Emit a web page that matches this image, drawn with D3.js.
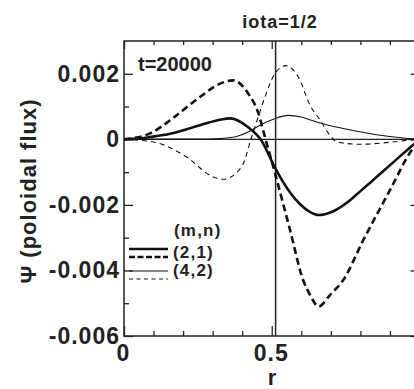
<!DOCTYPE html>
<html>
<head>
<meta charset="utf-8">
<script src="https://cdn.jsdelivr.net/npm/d3@7"></script>
<style>
  body { margin: 0; background: #fff; }
  text { font-family: "Liberation Sans", Arial, sans-serif; font-weight: bold; fill: #222; }
</style>
</head>
<body>
<div id="chart"></div>
<script>
// values (psi in units of 1e-3)
var r21 = [0, 0.054, 0.088, 0.156, 0.212, 0.27, 0.325, 0.36, 0.42, 0.466, 0.51, 0.535, 0.562, 0.596, 0.63, 0.658, 0.707, 0.765, 0.8, 0.832, 0.91, 0.968, 1];
var psi21 = [0, 0.03, 0.07, 0.17, 0.31, 0.47, 0.6, 0.64, 0.37, -0.05, -0.85, -1.25, -1.62, -1.98, -2.22, -2.31, -2.2, -1.86, -1.58, -1.33, -0.71, -0.25, 0];

var r21b = [0, 0.088, 0.156, 0.212, 0.257, 0.325, 0.37, 0.42, 0.455, 0.477, 0.51, 0.562, 0.606, 0.63, 0.658, 0.697, 0.742, 0.81, 0.9, 0.968, 1];
var psi21b = [0, 0.18, 0.58, 0.98, 1.29, 1.7, 1.8, 1.4, 0.79, 0.07, -1.0, -2.77, -4.29, -4.75, -5.1, -4.75, -4.29, -3.07, -1.55, -0.4, 0];

var r42 = [0, 0.2, 0.308, 0.375, 0.42, 0.466, 0.51, 0.556, 0.6, 0.635, 0.663, 0.742, 0.855, 0.945, 1];
var psi42 = [0, 0.005, 0.02, 0.07, 0.22, 0.46, 0.63, 0.73, 0.68, 0.58, 0.5, 0.33, 0.14, 0.04, 0];

var r42b = [0, 0.1, 0.212, 0.302, 0.335, 0.398, 0.432, 0.477, 0.51, 0.548, 0.59, 0.63, 0.663, 0.697, 0.72, 0.8, 0.91, 0.97, 1];
var psi42b = [0, -0.08, -0.54, -1.15, -1.22, -0.84, 0.07, 1.29, 2.0, 2.25, 1.9, 1.03, 0.6, 0.12, -0.08, -0.15, -0.08, -0.02, 0];

var yTicks = [-0.006, -0.004, -0.002, 0, 0.002];
var yMinor = [-0.005, -0.003, -0.001, 0.001];
var xTicks = [0, 0.5];
var xMajor = [0, 0.5, 1];
var xMinor = [0.1, 0.2, 0.3, 0.4, 0.6, 0.7, 0.8, 0.9];
var rMark = 0.513;
var legendLabels = ["(2,1)", "(4,2)"];

var width = 414, height = 389;
var margin = {top: 41, left: 124};
var plotW = 295.5, plotH = 295;

var svg = d3.select("#chart").append("svg")
    .attr("width", width)
    .attr("height", height);

var x = d3.scaleLinear().domain([0, 1]).range([margin.left, margin.left + plotW]);
var y = d3.scaleLinear().domain([-0.006, 0.003]).range([margin.top + plotH, margin.top]);

// frame
svg.append("rect")
    .attr("x", x(0)).attr("y", y(0.003))
    .attr("width", x(1) - x(0)).attr("height", y(-0.006) - y(0.003))
    .attr("fill", "none").attr("stroke", "#222").attr("stroke-width", 1.5);

function styleAxis(g) {
    g.select(".domain").remove();
    g.selectAll("line").attr("stroke", "#222").attr("stroke-width", 1.3);
    g.selectAll("text")
        .style("font-size", "23px")
        .style("letter-spacing", "1px")
        .attr("fill", "#222");
}

function fmt(d) {
    if (d === 0) return "0";
    return d.toFixed(3);
}

// left axis, ticks pointing in
svg.append("g")
    .attr("transform", "translate(" + x(0) + ",0)")
    .call(d3.axisLeft(y).tickValues(yTicks).tickSize(-9).tickPadding(4).tickFormat(fmt))
    .call(styleAxis);
svg.append("g")
    .attr("transform", "translate(" + x(0) + ",0)")
    .call(d3.axisLeft(y).tickValues(yMinor).tickSize(-5).tickFormat(""))
    .call(styleAxis);

// right axis
svg.append("g")
    .attr("transform", "translate(" + x(1) + ",0)")
    .call(d3.axisRight(y).tickValues(yTicks).tickSize(-9).tickFormat(""))
    .call(styleAxis);
svg.append("g")
    .attr("transform", "translate(" + x(1) + ",0)")
    .call(d3.axisRight(y).tickValues(yMinor).tickSize(-5).tickFormat(""))
    .call(styleAxis);

// bottom axis
svg.append("g")
    .attr("transform", "translate(0," + y(-0.006) + ")")
    .call(d3.axisBottom(x).tickValues(xMajor).tickSize(-10).tickFormat(""))
    .call(styleAxis);
svg.append("g")
    .attr("transform", "translate(-1," + y(-0.006) + ")")
    .call(d3.axisBottom(x).tickValues(xTicks).tickSize(0).tickPadding(9).tickFormat(function (d) { return d === 0 ? "0" : String(d); }))
    .call(styleAxis);
svg.append("g")
    .attr("transform", "translate(0," + y(-0.006) + ")")
    .call(d3.axisBottom(x).tickValues(xMinor).tickSize(-5).tickFormat(""))
    .call(styleAxis);

// top axis
svg.append("g")
    .attr("transform", "translate(0," + y(0.003) + ")")
    .call(d3.axisTop(x).tickValues(xMajor).tickSize(-8).tickFormat(""))
    .call(styleAxis);
svg.append("g")
    .attr("transform", "translate(0," + y(0.003) + ")")
    .call(d3.axisTop(x).tickValues(xMinor).tickSize(-4).tickFormat(""))
    .call(styleAxis);

// zero line and rational surface marker
svg.append("line")
    .attr("x1", x(0)).attr("x2", x(1))
    .attr("y1", y(0)).attr("y2", y(0))
    .attr("stroke", "#222").attr("stroke-width", 1.4);
svg.append("line")
    .attr("x1", x(rMark)).attr("x2", x(rMark))
    .attr("y1", y(0.003)).attr("y2", y(-0.006))
    .attr("stroke", "#222").attr("stroke-width", 1.5);

// curves
var series = [
    {r: r21, v: psi21, w: 2.6, dash: null},
    {r: r21b, v: psi21b, w: 2.6, dash: "7,4"},
    {r: r42, v: psi42, w: 1.1, dash: null},
    {r: r42b, v: psi42b, w: 1.1, dash: "5,4"}
];

var line = d3.line()
    .x(function (d) { return x(d[0]); })
    .y(function (d) { return y(d[1] * 1e-3); })
    .curve(d3.curveMonotoneX);

series.forEach(function (s) {
    var pts = s.r.map(function (rv, i) { return [rv, s.v[i]]; });
    svg.append("path")
        .attr("d", line(pts))
        .attr("fill", "none")
        .attr("stroke", "#111")
        .attr("stroke-width", s.w)
        .attr("stroke-dasharray", s.dash);
});

// legend
var legY = [249, 257, 271, 279];
series.forEach(function (s, i) {
    svg.append("line")
        .attr("x1", 129).attr("x2", 168)
        .attr("y1", legY[i]).attr("y2", legY[i])
        .attr("stroke", "#111")
        .attr("stroke-width", s.w)
        .attr("stroke-dasharray", s.dash ? (i === 1 ? "6,2.5" : "4,3.5") : null);
});
svg.append("text").attr("x", 174).attr("y", 236)
    .style("font-size", "17px").style("letter-spacing", "1.2px").text("(m,n)");
svg.append("text").attr("x", 173).attr("y", 258)
    .style("font-size", "17px").style("letter-spacing", "1.2px").text(legendLabels[0]);
svg.append("text").attr("x", 173).attr("y", 276)
    .style("font-size", "17px").style("letter-spacing", "1.2px").text(legendLabels[1]);

// texts
svg.append("text").attr("x", 280).attr("y", 28)
    .attr("text-anchor", "middle")
    .style("font-size", "18px").style("letter-spacing", "1px")
    .text("iota=1/2");
svg.append("text").attr("x", 138).attr("y", 71)
    .style("font-size", "20px")
    .text("t=20000");
svg.append("text").attr("x", 272).attr("y", 385)
    .attr("text-anchor", "middle")
    .style("font-size", "22px")
    .text("r");
svg.append("text")
    .attr("transform", "translate(36,191) rotate(-90)")
    .attr("text-anchor", "middle")
    .style("font-size", "22px").style("letter-spacing", "1px")
    .text("Ψ (poloidal flux)");
</script>
</body>
</html>
